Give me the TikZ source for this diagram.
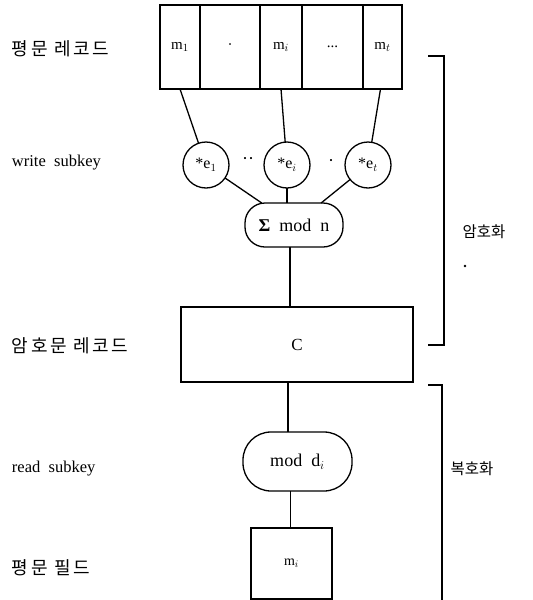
\documentclass[tikz,border=0pt]{standalone}
\usepackage{fontspec}
\setmainfont{Liberation Serif}
\newfontfamily\kr{Noto Sans CJK KR}
\newfontfamily\krsp[LetterSpace=14]{Noto Sans CJK KR}
\begin{document}
\begin{tikzpicture}[x=1pt,y=-1pt,
  every node/.style={inner sep=0pt,outer sep=0pt},
  ln/.style={line width=1.3pt},
  cell/.style={draw,ln,rectangle,minimum height=84pt,font=\fontsize{15}{17}\selectfont},
  circ/.style={draw,ln,circle,minimum size=46pt,font=\fontsize{16}{18}\selectfont},
  stad/.style={draw,ln,rectangle,rounded corners=20pt,font=\fontsize{18}{20}\selectfont},
  boxx/.style={draw,ln,rectangle,font=\fontsize{17}{19}\selectfont},
  krlab/.style={anchor=west,font=\krsp\fontsize{18}{20}\selectfont},
  enlab/.style={anchor=west,font=\fontsize{16.5}{19}\selectfont},
  krside/.style={font=\kr\fontsize{15.5}{17}\selectfont},
  dotlab/.style={font=\fontsize{18}{20}\selectfont}]
\useasboundingbox (0,0) rectangle (533,600);
% top record
\node[cell,minimum width=40pt] (c1) at (180,47) {m$_1$};
\node[cell,minimum width=60pt] (c2) at (230,47) {·};
\node[cell,minimum width=42pt] (c3) at (281,47) {m$_i$};
\node[cell,minimum width=61pt] (c4) at (332.5,47) {...};
\node[cell,minimum width=39pt] (c5) at (382.5,47) {m$_t$};
% circles
\node[circ] (e1) at (206,165) {*e$_1$};
\node[circ] (e2) at (287,165) {*e$_i$};
\node[circ] (e3) at (368,165) {*e$_t$};
\node[dotlab] (d1) at (248,161) {··};
\node[dotlab] (d2) at (331,163) {·};
% sum
\node[stad,minimum width=98pt,minimum height=44pt] (sum) at (294,225) {{\bfseries Σ}\ \ mod\ \ n};
% C box
\node[boxx,minimum width=232pt,minimum height=75pt] (C) at (297,344.5) {C};
% mod d
\node[stad,rounded corners=28pt,minimum width=109pt,minimum height=59pt] (modd) at (297.5,461.5) {mod\ \ d$_i$};
% m_i box
\node[boxx,minimum width=81pt,minimum height=71pt,font=\fontsize{14}{16}\selectfont] (mi) at (291.5,563.5) {m$_i$};
% connectors
\draw[ln] (c1.south) -- (e1);
\draw[ln] (c3.south) -- (e2);
\draw[ln] ([xshift=-2pt]c5.south) -- (e3);
\draw[ln] (e1) -- (sum);
\draw[ln] (e2) -- (e2 |- sum.north);
\draw[ln] (e3) -- (sum);
\draw[ln] ([xshift=-4pt]sum.south) -- ([xshift=-4pt]sum.south |- C.north);
\draw[ln] ([xshift=-9pt]C.south) -- ([xshift=-9pt]C.south |- modd.north);
\draw[ln] ([xshift=-7pt]modd.south) -- ([xshift=-7pt]modd.south |- mi.north);
% left labels
\node[krlab] (l1) at (12,49) {평문 레코드};
\node[enlab] (l2) at (12,163) {write\ \ subkey};
\node[krlab] (l3) at (12,346) {암호문 레코드};
\node[enlab] (l4) at (12,469) {read\ \ subkey};
\node[krlab] (l5) at (12,568) {평문 필드};
% brackets
\coordinate (b1a) at (428,56);
\coordinate (b1b) at (444,56);
\coordinate (b1c) at (444,345);
\coordinate (b1d) at (428,345);
\draw[ln] (b1a) -- (b1b) -- (b1c) -- (b1d);
\coordinate (b2a) at (428,385);
\coordinate (b2b) at (442,385);
\coordinate (b2c) at (442,600);
\draw[ln] (b2a) -- (b2b) -- (b2c);
\node[krside] (enc) at (484,232) {암호화};
\node[krside] (dec) at (472,469) {복호화};
\fill (465,266) circle (1.3pt);
\end{tikzpicture}
\end{document}
